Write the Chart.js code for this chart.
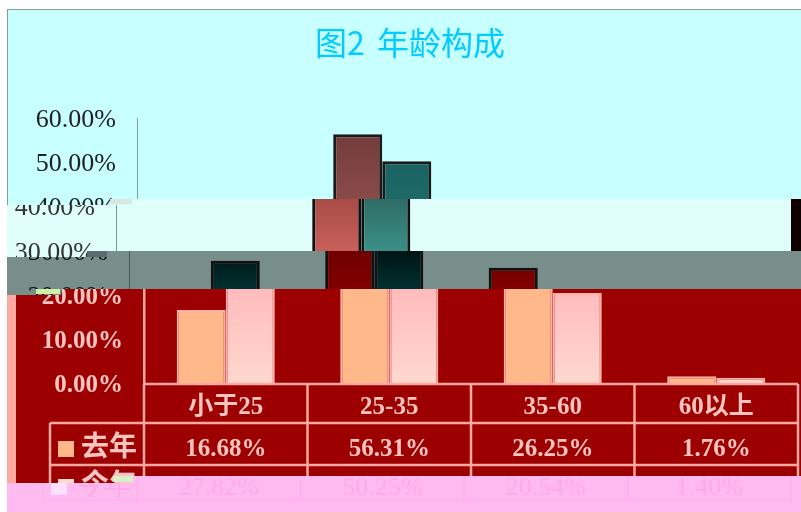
<!DOCTYPE html>
<html>
<head>
<meta charset="utf-8">
<title>图2 年龄构成</title>
<script src="https://cdn.jsdelivr.net/npm/chart.js@4"></script>
<style>
  html, body { margin: 0; padding: 0; background: #fff; overflow: hidden; }
  #page { position: relative; width: 801px; height: 512px; overflow: hidden; }
  .band { position: absolute; left: 0; top: 0; width: 801px; height: 512px; }
  .band canvas { position: absolute; top: 0; }
  .patch { position: absolute; }
</style>
</head>
<body>
<div id="page"></div>
<script>
const chartTitle = "图2 年龄构成";
const categories = ["小于25", "25-35", "35-60", "60以上"];
const seriesNames = ["去年", "今年"];
const lastYear = [16.68, 56.31, 26.25, 1.76];
const thisYear = [27.82, 50.25, 20.54, 1.40];

const serif = '"Liberation Serif", "Noto Sans CJK SC", serif';

// the picture is cut into horizontal strips, each one shifted and recoloured
const bands = [
  {
    top: 9, topLeft: 9, step: 7, shift: -7, bg: "#c8ffff", text: "#222222", line: "#8a9a9a",
    lineWidth: 1, weight: "normal", size: 26, barBorder: "#1a1a1a", barWidth: 3, y0: 137, y1: 199,
    last: ["#743c3c", "#8a4a4a"], cur: ["#1a5c5c", "#1c6a68"],
    patches: [
      { left: 7, top: 9, width: 794, height: 1, bg: "#8a9a9a" },
      { left: 7, top: 9, width: 1, height: 503, bg: "#8a9a9a" },
      { left: 110, top: 199, width: 22, height: 5, bg: "#d8e8e0" },
    ],
  },
  {
    top: 199, topLeft: 205, step: 132, shift: -28, bg: "#e0fffa", text: "#333333", line: "#7f9490",
    lineWidth: 1, weight: "normal", size: 26, barBorder: "#111111", barWidth: 3, y0: 199, y1: 251,
    last: ["#a84c48", "#c8605a"], cur: ["#2f6c66", "#3a9088"],
    patches: [
      { left: 791, top: 199, width: 10, height: 52, bg: "#100000" },
      { left: 87, top: 251, width: 20, height: 6, bg: "#5a6a70" },
    ],
  },
  {
    top: 251, topLeft: 257, step: 107, shift: -15, bg: "#788e8a", text: "#111111", line: "#4c5c58",
    lineWidth: 1, weight: "normal", size: 26, barBorder: "#111111", barWidth: 3, y0: 251, y1: 289,
    last: ["#700000", "#800000"], cur: ["#001414", "#003030"],
    patches: [{ left: 36, top: 289, width: 24, height: 5, bg: "#d0f0a8" }],
  },
  {
    top: 289, topLeft: 295, step: 62, shift: 0, bg: "#9c0000", text: "#ffc4c0", line: "#ffa8a0",
    lineWidth: 2.5, weight: "bold", size: 25, barBorder: "#ffb0a8", barWidth: 2, y0: 289, y1: 384,
    last: ["#ffb88a", "#ffb88a"], cur: ["#ffbbbb", "#ffd8d0"],
    patches: [
      { left: 7, top: 289, width: 9, height: 223, bg: "#ffaaa0" },
      { left: 113, top: 476, width: 20, height: 6, bg: "#d8f0c8" },
    ],
  },
  {
    top: 476, topLeft: 483, step: 133, shift: -7, bg: "#ffbbf0", text: "#ffa8ea", line: "#ffaae6",
    lineWidth: 1, weight: "normal", size: 26, barBorder: "#ffaae6", barWidth: 2, y0: 289, y1: 384,
    last: ["#ffd0e8", "#ffd0e8"], cur: ["#ffe0ff", "#ffe0ff"],
    patches: [],
  },
];

const rowLines = [423, 465, 500];
const rowText = [450, 488];
const pct = (v) => Number(v).toFixed(2) + "%";

const makeBandPlugin = (band) => ({
  id: "dataTable",
  afterDatasetsDraw(chart) {
    const { ctx, scales } = chart;
    const x = scales.x;
    const y = scales.y;
    const y0 = y.getPixelForValue(0);
    const half = (x.getPixelForValue(1) - x.getPixelForValue(0)) / 2;
    ctx.save();
    ctx.strokeStyle = band.line;
    ctx.lineWidth = band.lineWidth;
    const hLine = (x1, x2, yp) => { ctx.beginPath(); ctx.moveTo(x1, yp); ctx.lineTo(x2, yp); ctx.stroke(); };
    const vLine = (xp, y1, y2) => { ctx.beginPath(); ctx.moveTo(xp, y1); ctx.lineTo(xp, y2); ctx.stroke(); };

    // table grid under the plot
    const left = x.left;
    const right = x.right;
    hLine(left, right, y0);
    rowLines.forEach((r) => hLine(50, right, r));
    vLine(50, rowLines[0], rowLines[2]);
    for (let i = 0; i <= categories.length; i++) {
      vLine(left + half * 2 * i, y0, rowLines[2]);
    }

    // y labels sit 2px under their tick in the reference
    ctx.textBaseline = "middle";
    ctx.fillStyle = band.text;
    ctx.font = band.weight + " " + band.size + "px " + serif;
    ctx.textAlign = "right";
    y.ticks.forEach((t) => ctx.fillText(pct(t.value), y.left + y.width - 21, y.getPixelForValue(t.value) + 2));

    // table text
    [lastYear, thisYear].forEach((values, r) => {
      ctx.font = band.weight + " " + band.size + "px " + serif;
      ctx.textAlign = "center";
      values.forEach((v, i) => ctx.fillText(pct(v), x.getPixelForValue(i), rowText[r]));
      ctx.textAlign = "left";
      ctx.font = band.weight + " " + (band.size + 3) + "px " + serif;
      ctx.fillText(seriesNames[r], 81, rowText[r] - 1);
      ctx.fillStyle = r === 0 ? band.last[0] : band.cur[1];
      ctx.fillRect(58, rowText[r] - 9, 16, 16);
      ctx.fillStyle = band.text;
    });

    // title only lives in the top strip
    if (band === bands[0]) {
      ctx.fillStyle = "#00ccff";
      ctx.font = '32px "Noto Sans CJK SC", sans-serif';
      ctx.textAlign = "center";
      ctx.wordSpacing = "5px";
      ctx.fillText(chartTitle, 417, 43);
    }
    ctx.restore();
  },
});

const page = document.getElementById("page");

bands.forEach((band) => {
  const div = document.createElement("div");
  div.className = "band";
  div.style.background = band.bg;
  div.style.clipPath = "polygon(7px " + band.topLeft + "px, " + band.step + "px " + band.topLeft + "px, " +
    band.step + "px " + band.top + "px, 801px " + band.top + "px, 801px 512px, 7px 512px)";
  const canvas = document.createElement("canvas");
  canvas.width = 801;
  canvas.height = 512;
  canvas.style.left = band.shift + "px";
  div.appendChild(canvas);
  band.patches.forEach((p) => {
    const el = document.createElement("div");
    el.className = "patch";
    el.style.left = p.left + "px";
    el.style.top = p.top + "px";
    el.style.width = p.width + "px";
    el.style.height = p.height + "px";
    el.style.background = p.bg;
    div.appendChild(el);
  });
  page.appendChild(div);

  const fill = (colors) => (ctx) => {
    const g = ctx.chart.ctx.createLinearGradient(0, band.y0, 0, band.y1);
    g.addColorStop(0, colors[0]);
    g.addColorStop(1, colors[1]);
    return g;
  };

  new Chart(canvas, {
    type: "bar",
    data: {
      labels: categories,
      datasets: [
        { label: seriesNames[0], data: lastYear, backgroundColor: fill(band.last), borderColor: band.barBorder, borderWidth: band.barWidth },
        { label: seriesNames[1], data: thisYear, backgroundColor: fill(band.cur), borderColor: band.barBorder, borderWidth: band.barWidth },
      ],
    },
    options: {
      responsive: false,
      animation: false,
      layout: { padding: { top: 118, right: 3, bottom: 88, left: 0 } },
      datasets: { bar: { categoryPercentage: 0.6, barPercentage: 1 } },
      plugins: { legend: { display: false }, title: { display: false }, tooltip: { enabled: false } },
      scales: {
        x: {
          grid: { display: false, drawTicks: false },
          border: { display: false },
          afterFit: (s) => { s.height = 40; },
          ticks: {
            autoSkip: false,
            maxRotation: 0,
            padding: 9,
            color: band.text,
            font: { family: serif, size: band.size, weight: band.weight },
          },
        },
        y: {
          min: 0,
          max: 60,
          grid: { display: false, drawTicks: false },
          border: { color: band.line, width: band.lineWidth },
          afterFit: (s) => { s.width = 144; },
          ticks: {
            stepSize: 10,
            padding: 21,
            color: "rgba(0,0,0,0)",
            font: { family: serif, size: band.size, weight: band.weight },
            callback: (v) => pct(v),
          },
        },
      },
    },
    plugins: [makeBandPlugin(band)],
  });
});
</script>
</body>
</html>
